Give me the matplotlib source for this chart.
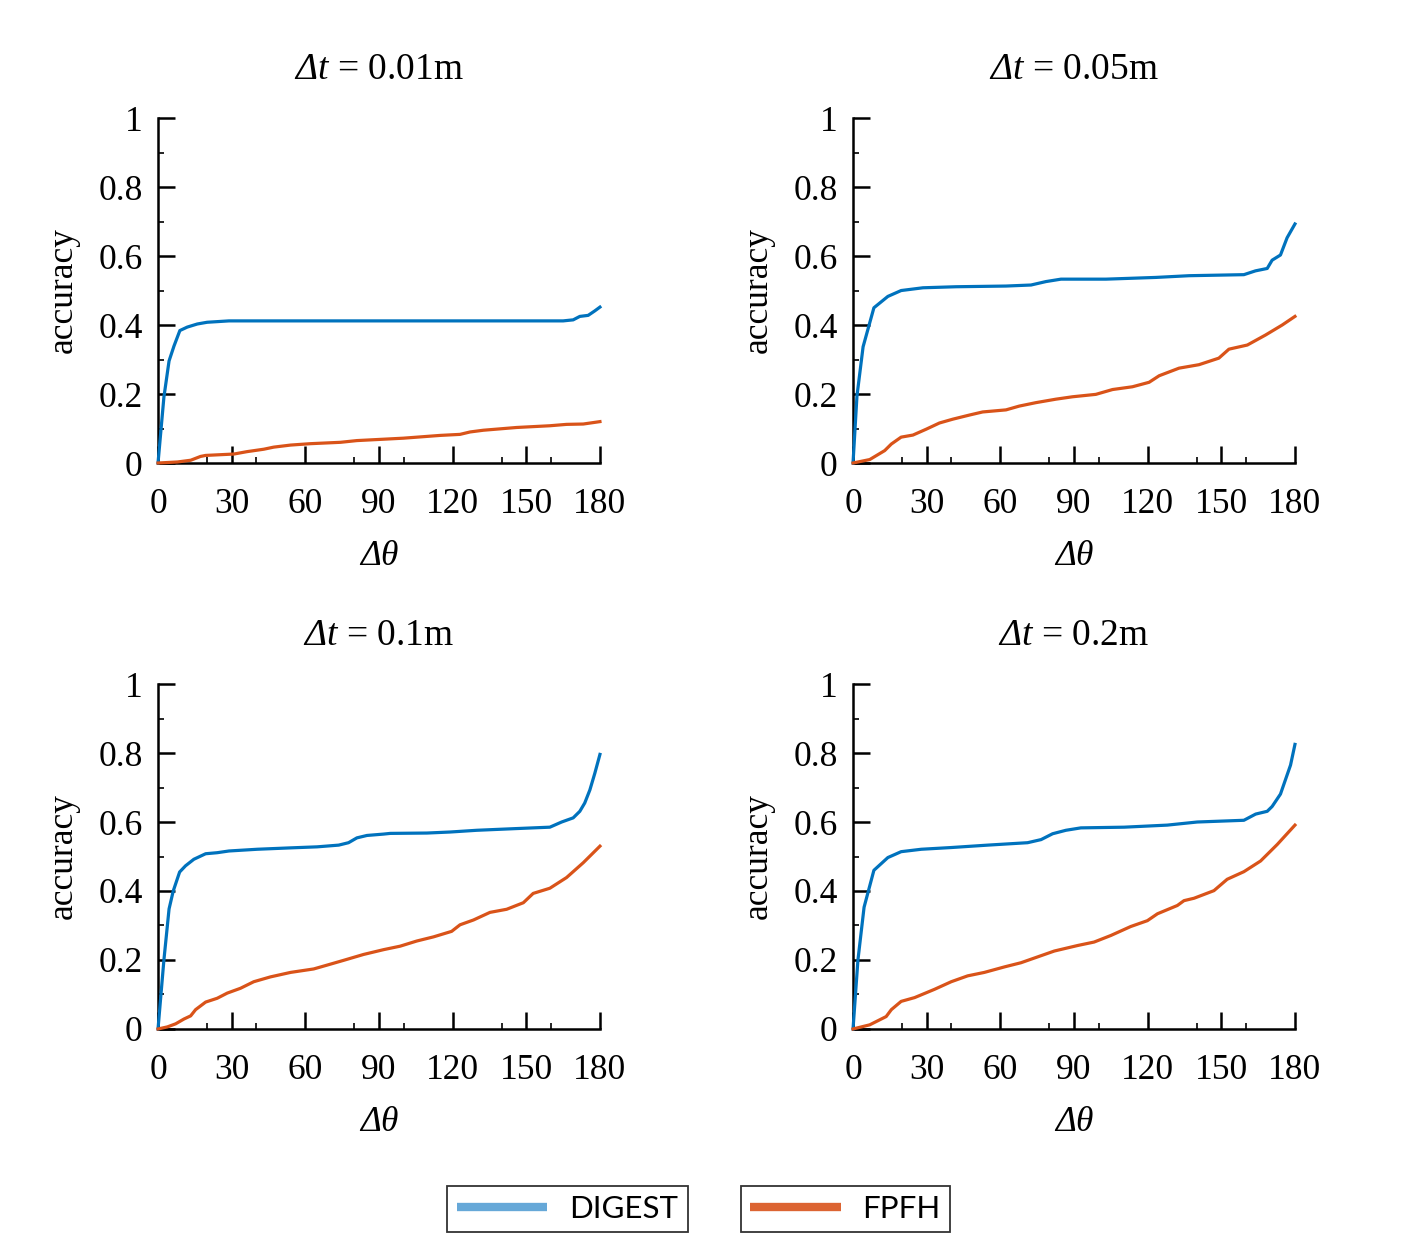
import matplotlib
matplotlib.use("Agg")
import matplotlib.pyplot as plt
from matplotlib.ticker import MultipleLocator, FixedLocator, FixedFormatter
from matplotlib.lines import Line2D

plt.rcParams.update({
    'font.family': 'Liberation Serif',
    'font.size': 25.5,
    'mathtext.fontset': 'custom',
    'mathtext.rm': 'Liberation Serif',
    'mathtext.it': 'Liberation Serif:italic',
    # italic capital Greek (Delta) through the cal slot
    'mathtext.cal': 'Liberation Serif:italic',
})

# --- data ---
# dt = 0.01m
th_dig_001 = [0, 2.4, 4.5, 6.5, 8.9, 11.9, 16, 20, 28.9, 165, 169.1, 171.8, 175.2, 177.9, 180]
acc_dig_001 = [0, 0.191, 0.296, 0.339, 0.384, 0.394, 0.403, 0.408, 0.412, 0.412, 0.415, 0.425, 0.428, 0.441, 0.452]
th_fp_001 = [0, 7.9, 13.3, 17.3, 19.4, 30.9, 36.3, 43.1, 47.1, 54, 62, 74.3, 81, 91.9, 100, 114.9,
             123, 127.1, 132.5, 146.1, 159.6, 166.4, 173.2, 180]
acc_fp_001 = [0, 0.003, 0.008, 0.019, 0.022, 0.026, 0.033, 0.040, 0.046, 0.052, 0.056, 0.060, 0.065,
              0.069, 0.072, 0.080, 0.083, 0.090, 0.095, 0.103, 0.108, 0.112, 0.113, 0.120]

# dt = 0.05m
th_dig_005 = [0, 1.6, 4.1, 8.5, 14.2, 19.6, 28.5, 42, 62.3, 72.5, 78.6, 84.7, 103, 123.3, 136.9,
              159.2, 163.9, 168.7, 170.7, 174.1, 176.8, 180]
acc_dig_005 = [0, 0.194, 0.337, 0.450, 0.483, 0.500, 0.508, 0.511, 0.513, 0.516, 0.526, 0.533, 0.533,
               0.538, 0.543, 0.546, 0.557, 0.564, 0.588, 0.603, 0.653, 0.693]
th_fp_005 = [0, 6.8, 12.9, 15.6, 19.6, 24.4, 29.8, 35.2, 40.6, 47.4, 52.8, 62.3, 67.7, 74.5, 82.6,
             89.4, 98.9, 105.7, 113.8, 120.6, 124.7, 132.8, 140.9, 149, 153.1, 160.6, 168, 174.8, 180]
acc_fp_005 = [0, 0.010, 0.036, 0.055, 0.075, 0.081, 0.098, 0.116, 0.127, 0.139, 0.148, 0.154, 0.165,
              0.175, 0.185, 0.192, 0.199, 0.213, 0.221, 0.234, 0.253, 0.275, 0.285, 0.304, 0.330,
              0.342, 0.371, 0.400, 0.425]

# dt = 0.1m
th_dig_01 = [0, 2.4, 4.5, 6.2, 8.8, 11.2, 14.6, 19.4, 24.1, 28.9, 40.4, 53.9, 64.8, 73.6, 77.6, 81,
             85.1, 91.9, 94.6, 109.5, 119, 129.8, 146.1, 159.6, 164.4, 169.1, 171.8, 173.8, 175.9,
             177.9, 180]
acc_dig_01 = [0, 0.20, 0.348, 0.40, 0.455, 0.473, 0.492, 0.508, 0.511, 0.516, 0.521, 0.525, 0.528,
              0.533, 0.540, 0.554, 0.561, 0.565, 0.567, 0.568, 0.571, 0.576, 0.581, 0.585, 0.600,
              0.612, 0.631, 0.655, 0.693, 0.741, 0.796]
th_fp_01 = [0, 3.8, 7.2, 10.6, 13.3, 15.3, 19.4, 24.1, 28.2, 33.6, 39, 45.8, 54, 63.4, 68.8, 75.6,
            83.7, 91.9, 98.6, 105.4, 112.2, 119.6, 123, 128.5, 135.2, 142, 148.8, 152.8, 159.6,
            166.4, 173.2, 180]
acc_fp_01 = [0, 0.006, 0.015, 0.029, 0.038, 0.056, 0.078, 0.089, 0.104, 0.118, 0.137, 0.151, 0.164,
             0.174, 0.185, 0.199, 0.216, 0.230, 0.240, 0.255, 0.267, 0.283, 0.302, 0.316, 0.338,
             0.347, 0.366, 0.393, 0.408, 0.439, 0.482, 0.530]

# dt = 0.2m
th_dig_02 = [0, 2, 4.5, 8.5, 14.2, 19.6, 27.8, 40, 54.9, 71.1, 76.6, 81.3, 86.7, 92.8, 110.4, 128,
             140.2, 159.2, 164, 168.7, 170.7, 174.1, 178.2, 180]
acc_dig_02 = [0, 0.2, 0.353, 0.46, 0.497, 0.514, 0.521, 0.526, 0.533, 0.540, 0.549, 0.566, 0.576,
              0.583, 0.585, 0.591, 0.600, 0.605, 0.623, 0.631, 0.645, 0.681, 0.765, 0.825]
th_fp_02 = [0, 6.8, 13.5, 15.6, 19.6, 25.1, 33.2, 40, 46.7, 53.5, 61.7, 68.4, 75.2, 82, 91.5, 98.2,
            105, 113.1, 119.9, 124, 132.1, 134.8, 138.9, 147, 152.4, 159.2, 166, 172.8, 180]
acc_fp_02 = [0, 0.012, 0.036, 0.056, 0.080, 0.091, 0.115, 0.137, 0.154, 0.164, 0.180, 0.192, 0.209,
             0.226, 0.242, 0.252, 0.271, 0.297, 0.314, 0.334, 0.358, 0.372, 0.379, 0.401, 0.434,
             0.456, 0.487, 0.535, 0.591]

titles = ['0.01m', '0.05m', '0.1m', '0.2m']
digest = [(th_dig_001, acc_dig_001), (th_dig_005, acc_dig_005), (th_dig_01, acc_dig_01), (th_dig_02, acc_dig_02)]
fpfh = [(th_fp_001, acc_fp_001), (th_fp_005, acc_fp_005), (th_fp_01, acc_fp_01), (th_fp_02, acc_fp_02)]

yticks = [0, 0.2, 0.4, 0.6, 0.8, 1]
ytick_labels = ['0', '0.2', '0.4', '0.6', '0.8', '1']
xticks = [0, 30, 60, 90, 120, 150, 180]

c_blue = '#0072BD'
c_orange = '#D95319'

fig = plt.figure(figsize=(14.21, 12.48), dpi=100)

# axes positions (figure fractions)
lefts = [0.1112, 0.6003, 0.1112, 0.6003]
bottoms = [0.629, 0.629, 0.1755, 0.1755]
w, h = 0.311, 0.2764

for i in range(4):
    ax = fig.add_axes([lefts[i], bottoms[i], w, h])
    ax.plot(*digest[i], color=c_blue, lw=2.3, clip_on=False, zorder=3)
    ax.plot(*fpfh[i], color=c_orange, lw=2.3, clip_on=False, zorder=3)

    ax.set_xlim(0, 180)
    ax.set_ylim(0, 1)
    ax.spines['top'].set_visible(False)
    ax.spines['right'].set_visible(False)
    for s in ('left', 'bottom'):
        ax.spines[s].set_linewidth(1.8)

    ax.xaxis.set_major_locator(FixedLocator(xticks))
    ax.xaxis.set_minor_locator(MultipleLocator(20))
    ax.yaxis.set_major_locator(FixedLocator(yticks))
    ax.yaxis.set_major_formatter(FixedFormatter(ytick_labels))
    ax.yaxis.set_minor_locator(MultipleLocator(0.1))
    ax.tick_params(which='major', direction='in', length=12, width=1.8)
    ax.tick_params(which='minor', direction='in', length=4, width=1.2)
    ax.tick_params(axis='x', which='major', pad=18)
    ax.tick_params(axis='y', which='major', pad=11)

    ax.set_title(r'$\mathcal{\Delta t}$ = ' + titles[i], pad=28, fontsize=27)
    ax.set_xlabel(r'$\mathcal{\Delta}\theta$')
    ax.xaxis.set_label_coords(0.5, -0.222)
    ax.set_ylabel('accuracy')
    ax.yaxis.set_label_coords(-0.177, 0.5)

# two separate legend boxes
leg_font = {'family': 'Lato', 'size': 22.5}
h1 = Line2D([], [], color='#66A8D8', lw=6, solid_capstyle='butt')
h2 = Line2D([], [], color='#DC6432', lw=6, solid_capstyle='butt')
for handle, label, cx in [(h1, 'DIGEST', 0.3994), (h2, 'FPFH', 0.595)]:
    leg = fig.legend([handle], [label], loc='center', bbox_to_anchor=(cx, 0.0312),
                     prop=leg_font, frameon=True, fancybox=False, handlelength=2.9,
                     handletextpad=0.7, borderpad=0.3, borderaxespad=0)
    leg.get_frame().set_edgecolor('black')
    leg.get_frame().set_linewidth(1.3)

fig.savefig('out.png', dpi=100)
